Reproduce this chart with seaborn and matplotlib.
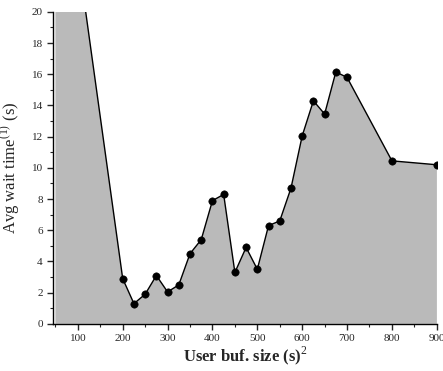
import matplotlib
matplotlib.use("Agg")
import matplotlib.pyplot as plt
import seaborn as sns
import pandas as pd
from matplotlib.ticker import MultipleLocator

buf_size = [50, 200, 225, 250, 275, 300, 325, 350, 375, 400, 425, 450, 475, 500,
            525, 550, 575, 600, 625, 650, 675, 700, 800, 900]
wait_time = [34.0, 2.9, 1.3, 1.9, 3.1, 2.05, 2.5, 4.5, 5.4, 7.9, 8.3, 3.3, 4.9, 3.5,
             6.3, 6.6, 8.7, 12.05, 14.3, 13.45, 16.15, 15.8, 10.45, 10.2]
marker_from = 1

sns.set_style("ticks")
plt.rcParams['font.family'] = ['Liberation Serif', 'DejaVu Serif']
plt.rcParams['mathtext.fontset'] = 'custom'
plt.rcParams['mathtext.rm'] = 'Liberation Serif'

df = pd.DataFrame({"x": buf_size, "y": wait_time})

fig = plt.figure(figsize=(4.43, 3.71), dpi=100)
ax = fig.add_axes([0.12, 0.127, 0.866, 0.841])

ax.fill_between(df["x"], 0, df["y"], color="#bababa", linewidth=0, zorder=1)
ax.plot([df["x"].iloc[-1]] * 2, [0, df["y"].iloc[-1]], color="#555555", lw=0.8, zorder=2)
sns.lineplot(data=df, x="x", y="y", ax=ax, color="black", lw=1.0, zorder=3)
sns.scatterplot(data=df.iloc[marker_from:], x="x", y="y", ax=ax, color="black",
                s=28, edgecolor="black", zorder=4)

ax.set_xlim(45, 900)
ax.set_ylim(0, 20)
ax.xaxis.set_major_locator(MultipleLocator(100))
ax.xaxis.set_minor_locator(MultipleLocator(50))
ax.yaxis.set_major_locator(MultipleLocator(2))
ax.yaxis.set_minor_locator(MultipleLocator(1))
ax.set_xticks([100, 200, 300, 400, 500, 600, 700, 800, 900])
ax.tick_params(which="major", length=4, width=1, labelsize=8, direction="out")
ax.tick_params(which="minor", length=2.5, width=0.8, direction="out")
ax.tick_params(axis="x", pad=3)
for s in ["top", "right"]:
    ax.spines[s].set_visible(False)
for s in ["left", "bottom"]:
    ax.spines[s].set_linewidth(1.0)
    ax.spines[s].set_color("black")

ax.set_xlabel("User buf. size (s)$^{2}$", fontsize=12, fontweight="bold", labelpad=1)
ax.set_ylabel("Avg wait time$^{(1)}$ (s)", fontsize=12, labelpad=6)

fig.savefig("out.png", dpi=100)
